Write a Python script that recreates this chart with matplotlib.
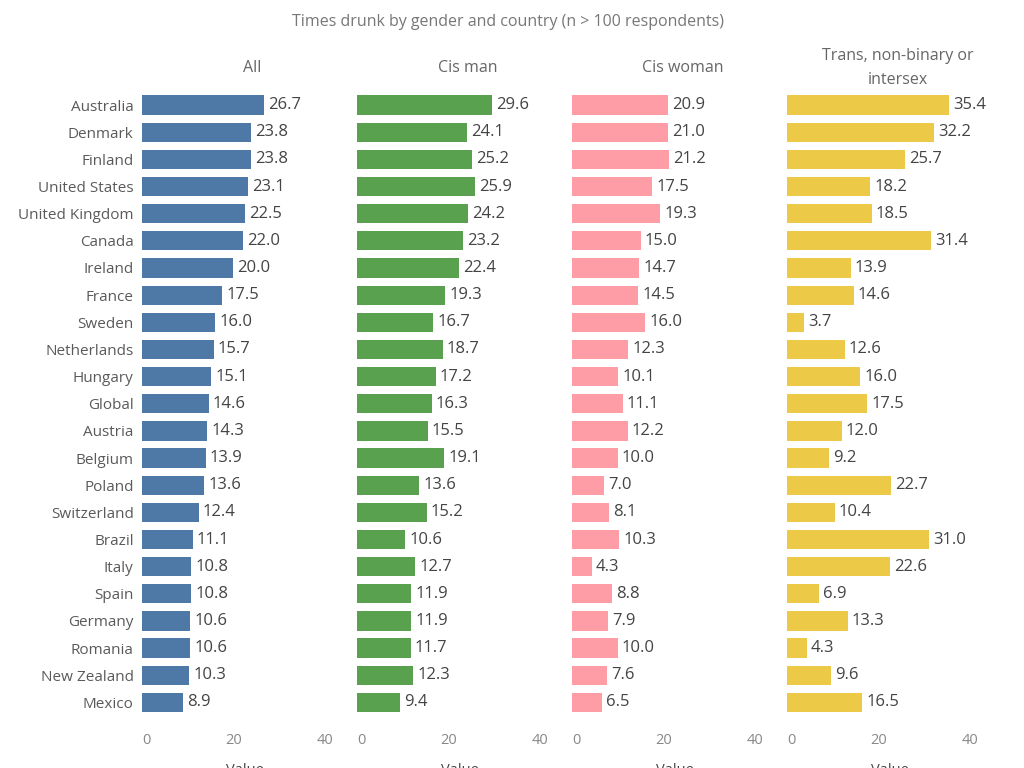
import matplotlib
matplotlib.use("Agg")
import matplotlib.pyplot as plt

countries = ["Australia", "Denmark", "Finland", "United States", "United Kingdom", "Canada",
             "Ireland", "France", "Sweden", "Netherlands", "Hungary", "Global", "Austria",
             "Belgium", "Poland", "Switzerland", "Brazil", "Italy", "Spain", "Germany",
             "Romania", "New Zealand", "Mexico"]
all_vals = [26.7, 23.8, 23.8, 23.1, 22.5, 22.0, 20.0, 17.5, 16.0, 15.7, 15.1, 14.6, 14.3,
            13.9, 13.6, 12.4, 11.1, 10.8, 10.8, 10.6, 10.6, 10.3, 8.9]
cis_man = [29.6, 24.1, 25.2, 25.9, 24.2, 23.2, 22.4, 19.3, 16.7, 18.7, 17.2, 16.3, 15.5,
           19.1, 13.6, 15.2, 10.6, 12.7, 11.9, 11.9, 11.7, 12.3, 9.4]
cis_woman = [20.9, 21.0, 21.2, 17.5, 19.3, 15.0, 14.7, 14.5, 16.0, 12.3, 10.1, 11.1, 12.2,
             10.0, 7.0, 8.1, 10.3, 4.3, 8.8, 7.9, 10.0, 7.6, 6.5]
trans = [35.4, 32.2, 25.7, 18.2, 18.5, 31.4, 13.9, 14.6, 3.7, 12.6, 16.0, 17.5, 12.0,
         9.2, 22.7, 10.4, 31.0, 22.6, 6.9, 13.3, 4.3, 9.6, 16.5]
headers = ["All", "Cis man", "Cis woman", "Trans, non-binary or\nintersex"]
series = [all_vals, cis_man, cis_woman, trans]
colors = ["#4e79a7", "#59a14f", "#ff9da7", "#edc948"]
xticks = [0, 20, 40]
title = "Times drunk by gender and country (n > 100 respondents)"

plt.rcParams['font.family'] = ['Open Sans', 'DejaVu Sans']

W, H = 1024, 768
fig = plt.figure(figsize=(W / 100, H / 100), dpi=100)

left0 = 142
pw = 215
top = 91.5
bottom = 716
n = len(countries)

fig.text(508 / W, 1 - 22 / H, title, ha='center', va='center', fontsize=11.5, color='#777777')

for i, (vals, col, hdr) in enumerate(zip(series, colors, headers)):
    ax = fig.add_axes([(left0 + i * pw) / W, 1 - bottom / H, pw / W, (bottom - top) / H])
    y = list(range(n))
    ax.barh(y, vals, height=0.71, color=col)
    ax.set_ylim(n - 0.5, -0.5)
    ax.set_xlim(0, 47)
    for yy, v in zip(y, vals):
        ax.text(v + 0.9, yy, f"{v:.1f}", va='center', ha='left', fontsize=12, color='#444444')
    for s in ax.spines.values():
        s.set_visible(False)
    ax.set_xticks(xticks)
    ax.set_xticklabels([str(t) for t in xticks])
    ax.tick_params(axis='x', length=0, pad=12, labelsize=10.5, labelcolor='#888888')
    lbls = ax.get_xticklabels()
    lbls[0].set_ha('left')
    if i == 0:
        ax.set_yticks(y)
        ax.set_yticklabels(countries)
        ax.tick_params(axis='y', length=0, pad=6, labelsize=11, labelcolor='#5a5a5a')
    else:
        ax.set_yticks([])
    cx = (left0 + i * pw + pw / 2 + 3) / W
    fig.text(cx, 1 - 68 / H, hdr, ha='center', va='center', fontsize=11.5,
             color='#666666', linespacing=1.75)
    fig.text(cx - 8 / W, 1 - 763 / H, "Value", ha='center', va='top', fontsize=10.5,
             color='#444444')

fig.savefig("out.png", dpi=100)
